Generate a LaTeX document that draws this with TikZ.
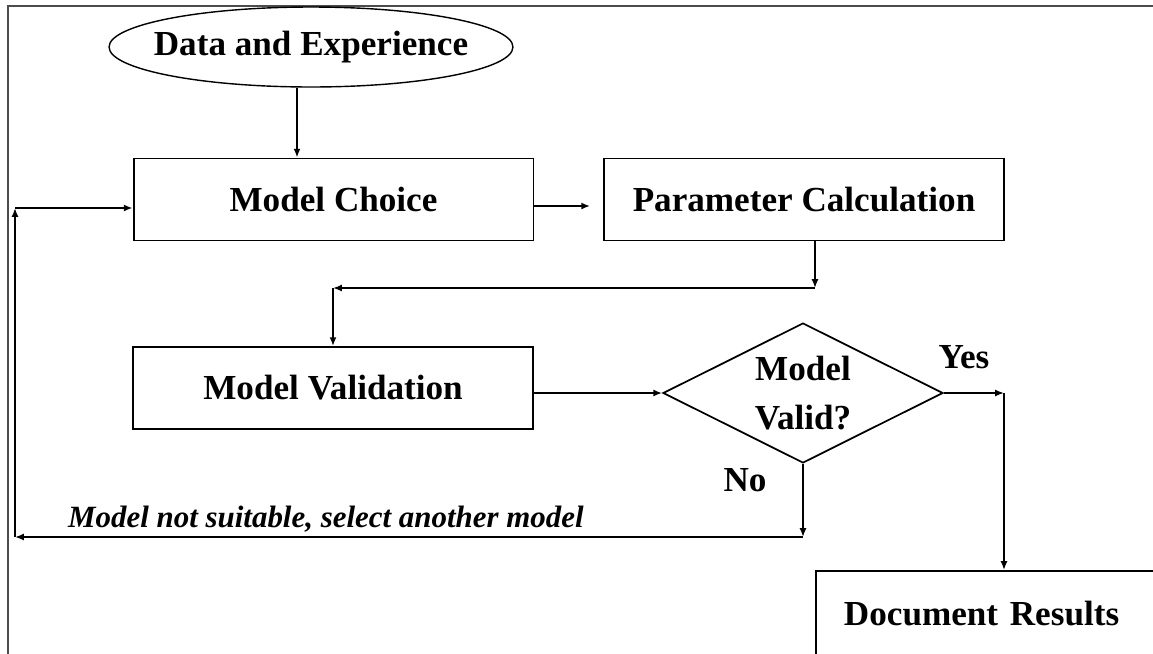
\documentclass[tikz,border=0pt]{standalone}
\usepackage{fontspec}
\setmainfont{Liberation Serif}
\usetikzlibrary{arrows.meta, shapes.geometric, positioning, calc}

\begin{document}
\begin{tikzpicture}[
  x=0.02cm, y=-0.02cm,
  font=\fontsize{20}{24}\selectfont\bfseries,
  box/.style={draw, line width=1.1pt, minimum width=8cm,
              minimum height=1.64cm, inner sep=0pt},
  startbox/.style={draw, ellipse, line width=0.8pt,
              minimum width=8.08cm, minimum height=1.6cm, inner sep=0pt},
  decision/.style={draw, diamond, aspect=2, line width=1pt,
              minimum width=5.6cm, minimum height=2.8cm, inner sep=0pt,
              align=center, font=\fontsize{20}{28}\selectfont\bfseries},
  frame/.style={draw=black!70, line width=1pt},
  arr/.style={-{Latex[length=5pt, width=4pt]}, line width=1.1pt},
  lbl/.style={font=\fontsize{20}{24}\selectfont\bfseries},
  note/.style={font=\fontsize{17.6}{22}\selectfont\bfseries\itshape},
]
\useasboundingbox (0,0) rectangle (1153,653);
\clip (0,0) rectangle (1153,653);
\draw[frame] (8,6) rectangle (1190,690);

% ── Main chain ───────────────────────────────────────────────
\node[startbox] (data) at (311,47)
  {\makebox[0pt]{Data and Experience}};
\node[box] (choice) at (333.5,199.5) {Model Choice};
\node[box] (param) at (804,199.5) {Parameter Calculation};
\node[box] (valid) at (333,388) {Model Validation};
\node[decision] (check) at (803,393) {Model\\Valid?};
\node[box, anchor=north west, minimum width=7.2cm, minimum height=1.72cm,
      text width=6.08cm, align=left, inner xsep=0.56cm] (results) at (815,570)
  {Document Results};

\node[lbl] (yes) at (964,357) {Yes};
\node[lbl] (no) at (745,480) {No};
\node[note, anchor=base west] (retry) at (62,527)
  {Model not suitable, select another model};

% ── Bends ────────────────────────────────────────────────────
\coordinate (pturn) at (815,288);
\coordinate (vturn) at (333,288);
\coordinate (yturn) at (1004,393);
\coordinate (nturn) at (803,537);
\coordinate (lturn) at (15,537);
\coordinate (uturn) at (15,208);

\draw[arr] ([xshift=-0.28cm]data.south) -- ([xshift=-0.28cm]data.south |- choice.north);
\draw[arr, shorten >=0.26cm] ([yshift=-0.13cm]choice.east) -- ([yshift=-0.13cm]param.west);
\draw[arr] (param.south -| pturn) -- (pturn);
\draw[arr] (pturn) -- (vturn);
\draw[arr] (vturn) -- (valid.north);
\draw[arr] (valid.east |- check.west) -- (check.west);

% ── Yes / No ─────────────────────────────────────────────────
\draw[arr] (check.east) -- (yturn);
\draw[arr] (yturn) -- (yturn |- results.north);
\draw[arr] (check.south) -- (nturn);
\draw[arr] (nturn) -- (lturn);
\draw[arr] (lturn) -- (uturn);
\draw[arr] (uturn) -- (uturn -| choice.west);

\end{tikzpicture}
\end{document}
